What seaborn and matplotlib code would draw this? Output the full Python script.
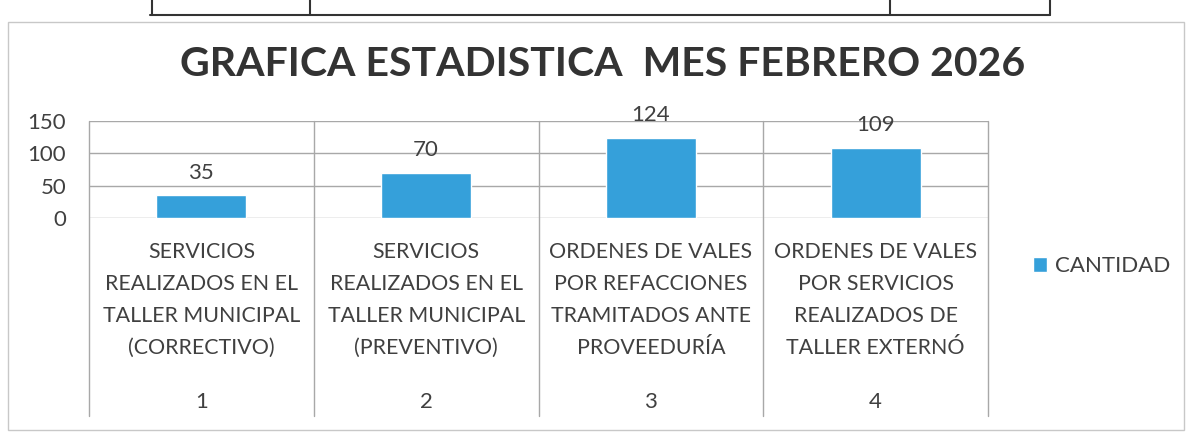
import matplotlib
matplotlib.use("Agg")
import matplotlib.pyplot as plt
import matplotlib.transforms as mtransforms
from matplotlib.lines import Line2D
from matplotlib.patches import Rectangle
import seaborn as sns
import pandas as pd

# ---- data ----
categorias = [
    "SERVICIOS\nREALIZADOS EN EL\nTALLER MUNICIPAL\n(CORRECTIVO)",
    "SERVICIOS\nREALIZADOS EN EL\nTALLER MUNICIPAL\n(PREVENTIVO)",
    "ORDENES DE VALES\nPOR REFACCIONES\nTRAMITADOS ANTE\nPROVEEDURÍA",
    "ORDENES DE VALES\nPOR SERVICIOS\nREALIZADOS DE\nTALLER EXTERNÓ",
]
numeros = ["1", "2", "3", "4"]
cantidad = [35, 70, 124, 109]
serie = "CANTIDAD"
titulo = "GRAFICA ESTADISTICA  MES FEBRERO 2026"
yticks = [0, 50, 100, 150]

df = pd.DataFrame({"num": numeros, "valor": cantidad, "serie": [serie] * len(numeros)})

sns.set_theme(style="white")
plt.rcParams["font.family"] = ["Lato", "DejaVu Sans"]

W, H = 1190, 432
fig = plt.figure(figsize=(W / 100, H / 100), dpi=100)
fig.patch.set_facecolor("white")

x0, x1 = 89, 988
y_top, y_zero = 121, 218
ax = fig.add_axes([x0 / W, 1 - y_zero / H, (x1 - x0) / W, (y_zero - y_top) / H])

blue = "#35A0DA"
txt = "#404040"
grid = "#A8A8A8"
fs = 16
fs_cat = 15.4

sns.barplot(data=df, x="num", y="valor", hue="serie", palette={serie: blue},
            width=0.4, ax=ax, legend=True, saturation=1)

ax.set_ylim(0, 150)
ax.set_xlim(-0.5, len(numeros) - 0.5)
ax.set_yticks(yticks)
ax.set_yticklabels([str(t) for t in yticks], fontsize=fs, color=txt)
ax.tick_params(axis="y", length=5.5, color=grid, width=1, pad=11)
ax.tick_params(axis="x", length=0, labelbottom=False)
ax.set_xlabel("")
ax.set_ylabel("")
for s in ax.spines.values():
    s.set_visible(False)
for t in yticks:
    ax.axhline(t, color=grid, lw=1, zorder=0)

# category boundaries (through plot area and down into the multi-level axis)
trans = mtransforms.blended_transform_factory(ax.transData, ax.transAxes)
ph = y_zero - y_top
bottom_ax = -(416 - y_zero) / ph
for b in [i - 0.5 for i in range(len(numeros) + 1)]:
    ax.add_line(Line2D([b, b], [bottom_ax, 1], transform=trans, color=grid,
                       lw=1, clip_on=False, zorder=0))

# value labels
for c in ax.containers:
    ax.bar_label(c, labels=[str(v) for v in cantidad], padding=9, fontsize=fs, color=txt)

# category labels and numbers
for i, (cat, n) in enumerate(zip(categorias, numeros)):
    ax.text(i, -(300 - y_zero) / ph, cat, transform=trans, ha="center", va="center",
            fontsize=fs_cat, color=txt, linespacing=1.75)
    ax.text(i, -(402 - y_zero) / ph, n, transform=trans, ha="center", va="center",
            fontsize=fs, color=txt)

# legend
leg = ax.legend(loc="center left", bbox_to_anchor=(1024 / W, 1 - 266 / H),
                bbox_transform=fig.transFigure, frameon=False, fontsize=fs,
                handlelength=0.65, handleheight=0.65, handletextpad=0.35, borderaxespad=0)
for t in leg.get_texts():
    t.set_color(txt)

# title
fig.text(603 / W, 1 - 65 / H, titulo, ha="center", va="center", fontsize=29.5,
         fontweight="bold", color="#333333")

# chart border and top table fragment
fig.add_artist(Rectangle((8 / W, 1 - 430 / H), (1184 - 8) / W, (430 - 22) / H,
                         transform=fig.transFigure, fill=False, ec="#C8C8C8", lw=1))
fig.add_artist(Line2D([150 / W, 1050 / W], [1 - 15 / H, 1 - 15 / H],
                      transform=fig.transFigure, color="#333333", lw=1.5))
for xv in [152, 310, 890, 1050]:
    fig.add_artist(Line2D([xv / W, xv / W], [1.0, 1 - 15 / H],
                          transform=fig.transFigure, color="#333333", lw=1.5))

fig.savefig("out.png", dpi=100, facecolor="white")
